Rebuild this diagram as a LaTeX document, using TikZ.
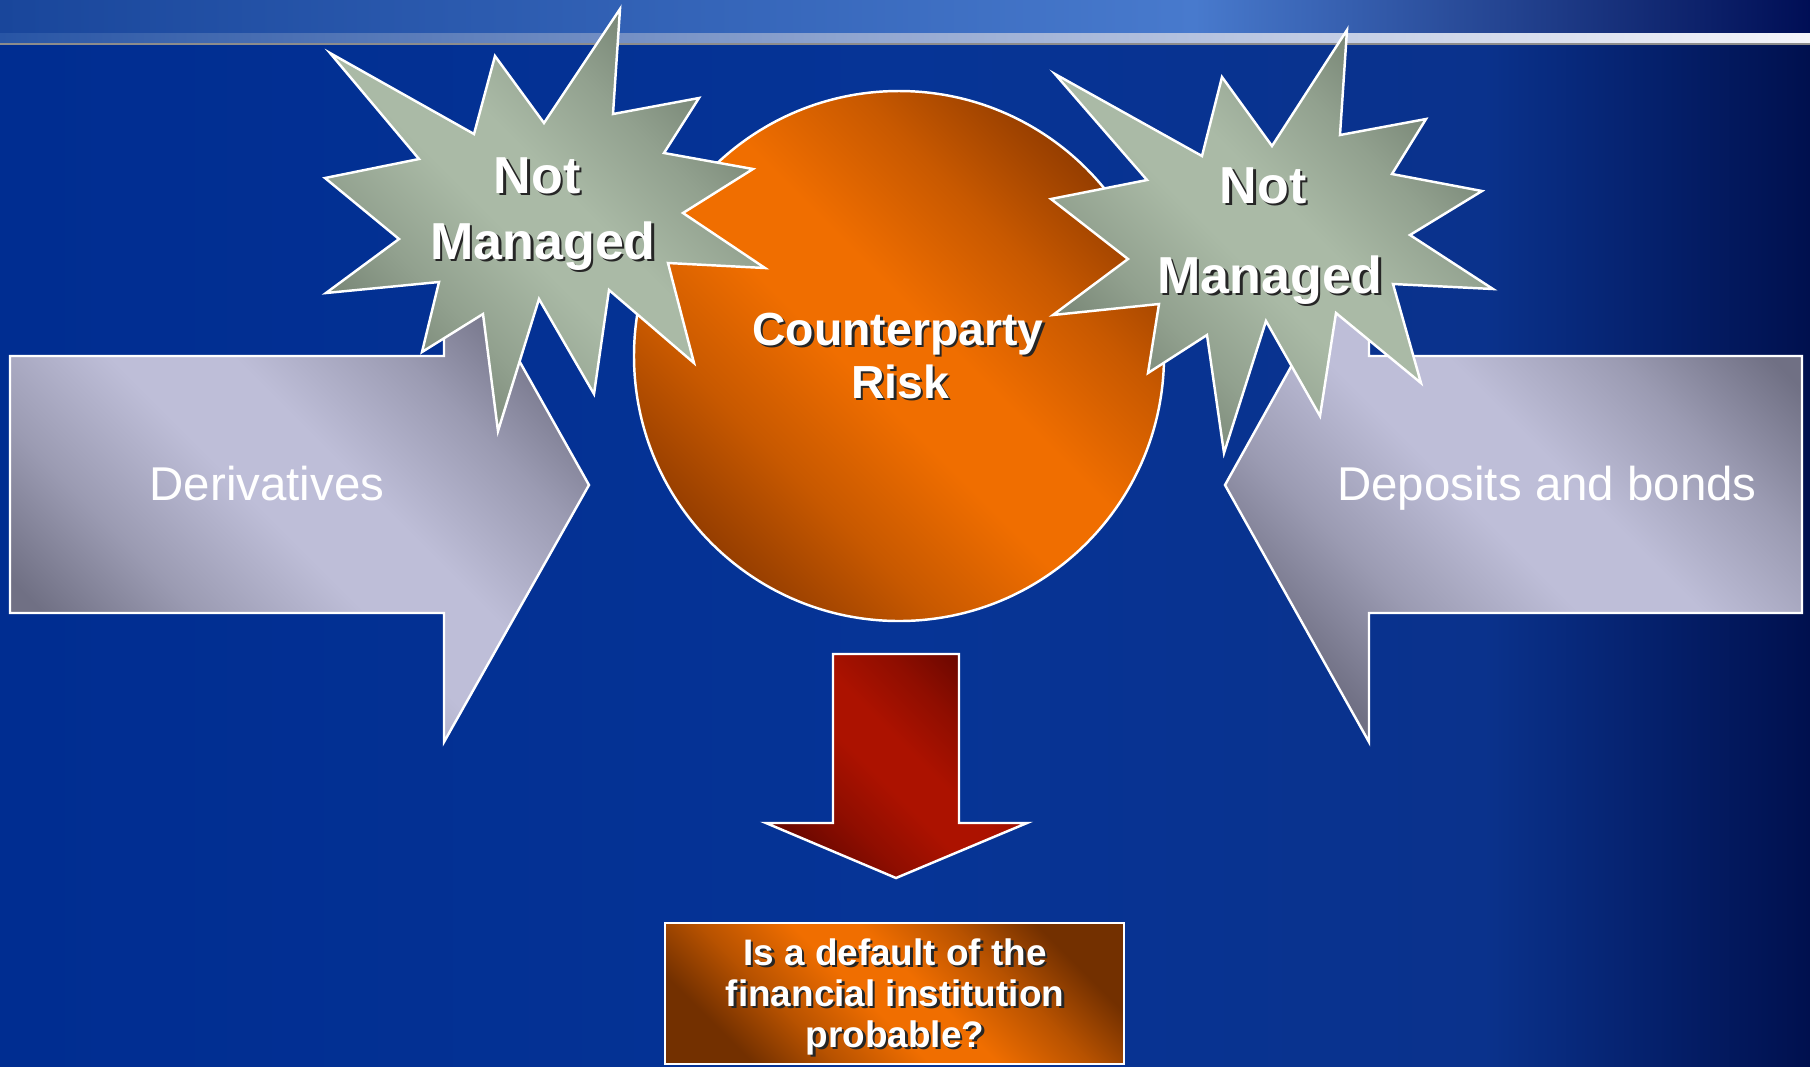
\documentclass[tikz,border=0pt]{standalone}
\usepackage{fontspec}
\setmainfont{Liberation Sans}
% background colours
\definecolor{bgA}{RGB}{0,45,145}
\definecolor{bgB}{RGB}{6,52,150}
\definecolor{bgC}{RGB}{10,50,140}
\definecolor{bgD}{RGB}{0,16,78}
\definecolor{bandA}{RGB}{25,70,155}
\definecolor{bandB}{RGB}{72,122,205}
\definecolor{bandC}{RGB}{0,14,85}
\definecolor{lineA}{RGB}{40,85,165}
\definecolor{lineB}{RGB}{150,170,210}
\definecolor{lineC}{RGB}{245,245,250}
% shape colours
\definecolor{lavLight}{RGB}{190,190,216}
\definecolor{lavDark}{RGB}{112,112,132}
\definecolor{orLight}{RGB}{240,110,0}
\definecolor{orDark}{RGB}{150,62,0}
\definecolor{grLight}{RGB}{170,186,166}
\definecolor{grDark}{RGB}{116,130,114}
\definecolor{rdLight}{RGB}{172,18,0}
\definecolor{rdDark}{RGB}{108,8,0}
\definecolor{bxDark}{RGB}{115,48,0}
\pgfdeclarehorizontalshading{bodybg}{100bp}{color(0bp)=(bgA); color(25bp)=(bgA); color(50bp)=(bgB); color(66bp)=(bgC); color(75bp)=(bgD); color(100bp)=(bgD)}
\pgfdeclarehorizontalshading{topband}{100bp}{color(0bp)=(bandA); color(25bp)=(bandA); color(58bp)=(bandB); color(75bp)=(bandC); color(100bp)=(bandC)}
\pgfdeclarehorizontalshading{topline}{100bp}{color(0bp)=(lineA); color(25bp)=(lineA); color(50bp)=(lineB); color(75bp)=(lineC); color(100bp)=(lineC)}
% dark corners, light diagonal band: name, dark colour, light colour
\newcommand\declarediagshading[3]{%
  \colorlet{#1mid}{#3!55!#2}%
  \pgfdeclareverticalshading{#1}{100bp}{color(0bp)=(#2); color(25bp)=(#2); color(35bp)=(#1mid); color(46bp)=(#3); color(54bp)=(#3); color(65bp)=(#1mid); color(75bp)=(#2); color(100bp)=(#2)}}
\declarediagshading{lavshade}{lavDark}{lavLight}
\declarediagshading{orshade}{orDark}{orLight}
\declarediagshading{grshade}{grDark}{grLight}
\declarediagshading{rdshade}{rdDark}{rdLight}
\declarediagshading{bxshade}{bxDark}{orLight}
% text with a dark drop shadow: name, position, font, text
\newcommand\dropshadowtext[4]{%
  \node[shd, font=#3] (#1s) at (#2) {#4};
  \node[lbl, font=#3] (#1) at (#2) {#4};}
\begin{document}
\begin{tikzpicture}[x=0.1mm, y=-0.1mm,
  outline/.style={draw=white, line width=0.7pt, line join=miter},
  diag/.style={shading=#1, shading angle=-45},
  lbl/.style={text=white, anchor=base, inner sep=0pt},
  shd/.style={text=black!85, anchor=base, inner sep=0pt, xshift=0.25mm, yshift=-0.25mm},
  plainlbl/.style={text=white, anchor=base, inner sep=0pt, font=\fontsize{13.5}{16}\selectfont},
]
\useasboundingbox (0,0) rectangle (1810,1066);
\clip (0,0) rectangle (1810,1066);

% background
\shade[shading=bodybg] (0,40) rectangle (1810,1066);
\shade[shading=topband] (0,0) rectangle (1810,33);
\shade[shading=topline] (0,33) rectangle (1810,44);
\draw[black!45, line width=0.3pt] (0,44) -- (1810,44);

% side arrows
\path[outline, diag=lavshade]
  (10,356) -- (444,356) -- (444,227) -- (589,485) -- (444,742) -- (444,613) -- (10,613) -- cycle;
\path[outline, diag=lavshade]
  (1802,356) -- (1369,356) -- (1369,227) -- (1225,485) -- (1369,742) -- (1369,613) -- (1802,613) -- cycle;

% central circle
\path[outline, diag=orshade] (899,356) circle[radius=265];

% starbursts
\path[outline, diag=grshade]
  (330,53) -- (474,134) -- (495,56) -- (544,123) -- (620,9) -- (613,114) -- (699,98) -- (664,153)
  -- (753,169) -- (683,213) -- (765,268) -- (668,263) -- (694,363) -- (609,290) -- (594,394)
  -- (539,299) -- (498,431) -- (483,314) -- (422,352) -- (439,282) -- (326,293) -- (399,239)
  -- (325,178) -- (419,159) -- cycle;
\path[outline, diag=grshade]
  (1055,74) -- (1202,156) -- (1222,77) -- (1272,146) -- (1347,30) -- (1340,135) -- (1426,119)
  -- (1392,174) -- (1482,191) -- (1410,235) -- (1493,289) -- (1393,284) -- (1421,383)
  -- (1336,313) -- (1320,416) -- (1266,321) -- (1224,453) -- (1207,335) -- (1148,373)
  -- (1159,304) -- (1053,315) -- (1128,259) -- (1051,199) -- (1147,180) -- cycle;

% down arrow
\path[outline, diag=rdshade]
  (833,654) -- (959,654) -- (959,823) -- (1027,823) -- (896,878) -- (766,823) -- (833,823) -- cycle;

% question box
\path[outline, diag=bxshade] (665,923) rectangle (1124,1064);

% labels
\node[plainlbl] (deriv) at (267,500) {Derivatives};
\node[plainlbl] (depos) at (1547,500) {Deposits and bonds};

\dropshadowtext{cpA}{898,345}{\fontsize{13.2}{16}\selectfont\bfseries}{Counterparty}
\dropshadowtext{cpB}{900,398}{\fontsize{13.2}{16}\selectfont\bfseries}{Risk}

\dropshadowtext{lnA}{537,193}{\fontsize{14.8}{18}\selectfont\bfseries}{Not}
\dropshadowtext{lnB}{543,259}{\fontsize{14.8}{18}\selectfont\bfseries}{Managed}
\dropshadowtext{rnA}{1263,203}{\fontsize{14.8}{18}\selectfont\bfseries}{Not}
\dropshadowtext{rnB}{1270,293}{\fontsize{14.8}{18}\selectfont\bfseries}{Managed}

\dropshadowtext{qA}{895,965}{\fontsize{10.5}{13}\selectfont\bfseries}{Is a default of the}
\dropshadowtext{qB}{895,1006}{\fontsize{10.5}{13}\selectfont\bfseries}{financial institution}
\dropshadowtext{qC}{895,1047}{\fontsize{10.5}{13}\selectfont\bfseries}{probable?}
\end{tikzpicture}
\end{document}
